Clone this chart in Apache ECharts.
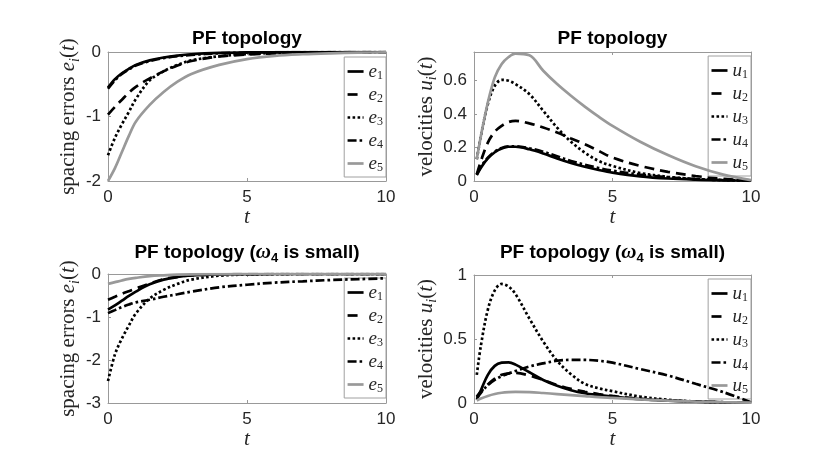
<!DOCTYPE html>
<html>
<head>
<meta charset="utf-8">
<script src="https://cdn.jsdelivr.net/npm/echarts@6/dist/echarts.min.js"></script>
<style>
  html, body { margin: 0; padding: 0; background: #fff; }
  #chart { width: 830px; height: 468px; }
</style>
</head>
<body>
<div id="chart"></div>
<script>
// time samples
const tErr = [0, 0.25, 0.5, 0.75, 1, 1.5, 2, 2.5, 3, 4, 5, 6, 7, 8, 9, 10];
const tVel = [0.1, 0.25, 0.5, 0.75, 1, 1.25, 1.5, 2, 2.5, 3, 3.5, 4, 4.5, 5, 6, 7, 8, 9, 10];

// top left: spacing errors, PF topology
const e1A = [-0.55, -0.42, -0.33, -0.26, -0.2, -0.13, -0.085, -0.055, -0.035, -0.015, -0.006, -0.003, -0.001, 0, 0, 0];
const e2A = [-0.97, -0.85, -0.74, -0.63, -0.54, -0.41, -0.3, -0.21, -0.14, -0.07, -0.04, -0.02, -0.01, -0.005, -0.002, -0.001];
const e3A = [-1.6, -1.33, -1.12, -0.93, -0.73, -0.44, -0.3, -0.2, -0.13, -0.065, -0.033, -0.015, -0.007, -0.003, -0.001, 0];
const e4A = [-0.57, -0.44, -0.34, -0.27, -0.21, -0.14, -0.095, -0.065, -0.045, -0.02, -0.01, -0.005, -0.002, -0.001, 0, 0];
const e5A = [-2, -1.8, -1.55, -1.3, -1.08, -0.82, -0.62, -0.46, -0.34, -0.2, -0.11, -0.06, -0.035, -0.02, -0.01, -0.005];

// top right: velocities, PF topology
const u1A = [0.035, 0.08, 0.135, 0.172, 0.195, 0.205, 0.205, 0.19, 0.165, 0.135, 0.108, 0.085, 0.066, 0.05, 0.028, 0.015, 0.008, 0.004, 0.002];
const u2A = [0.04, 0.12, 0.23, 0.295, 0.33, 0.353, 0.36, 0.345, 0.32, 0.29, 0.255, 0.22, 0.18, 0.14, 0.09, 0.055, 0.03, 0.013, 0.003];
const u3A = [0.13, 0.27, 0.46, 0.57, 0.605, 0.6, 0.58, 0.52, 0.42, 0.32, 0.235, 0.17, 0.12, 0.09, 0.048, 0.025, 0.012, 0.005, 0.001];
const u4A = [0.04, 0.085, 0.14, 0.176, 0.198, 0.207, 0.208, 0.196, 0.175, 0.148, 0.12, 0.097, 0.078, 0.062, 0.038, 0.022, 0.012, 0.006, 0.003];
const u5A = [0.13, 0.27, 0.47, 0.62, 0.7, 0.742, 0.762, 0.752, 0.66, 0.58, 0.51, 0.445, 0.385, 0.33, 0.235, 0.155, 0.088, 0.038, 0.005];

// bottom left: spacing errors, omega_4 small
const e1B = [-0.83, -0.73, -0.62, -0.51, -0.41, -0.24, -0.13, -0.07, -0.035, -0.01, -0.003, 0, 0, 0, 0, 0];
const e2B = [-0.6, -0.53, -0.46, -0.4, -0.34, -0.22, -0.12, -0.065, -0.033, -0.01, -0.003, 0, 0, 0, 0, 0];
const e3B = [-2.49, -1.87, -1.5, -1.2, -0.92, -0.57, -0.37, -0.23, -0.13, -0.04, -0.012, -0.004, 0, 0, 0, 0];
const e4B = [-0.91, -0.84, -0.77, -0.71, -0.66, -0.6, -0.53, -0.47, -0.41, -0.31, -0.25, -0.2, -0.17, -0.14, -0.12, -0.1];
const e5B = [-0.23, -0.19, -0.15, -0.115, -0.09, -0.05, -0.03, -0.015, -0.008, -0.003, 0, 0, 0, 0, 0, 0];

// bottom right: velocities, omega_4 small
const u1B = [0.026, 0.1, 0.22, 0.29, 0.315, 0.318, 0.3, 0.24, 0.18, 0.135, 0.1, 0.076, 0.062, 0.05, 0.03, 0.018, 0.01, 0.006, 0.003];
const u2B = [0.05, 0.09, 0.145, 0.19, 0.22, 0.232, 0.235, 0.215, 0.18, 0.14, 0.11, 0.088, 0.07, 0.055, 0.033, 0.02, 0.012, 0.007, 0.004];
const u3B = [0.22, 0.45, 0.73, 0.88, 0.93, 0.91, 0.85, 0.66, 0.48, 0.33, 0.225, 0.15, 0.115, 0.092, 0.05, 0.025, 0.012, 0.005, 0.002];
const u4B = [0.04, 0.08, 0.14, 0.18, 0.21, 0.23, 0.25, 0.285, 0.31, 0.33, 0.337, 0.337, 0.33, 0.315, 0.265, 0.215, 0.15, 0.085, 0.005];
const u5B = [0.02, 0.035, 0.055, 0.07, 0.08, 0.085, 0.087, 0.085, 0.078, 0.07, 0.062, 0.054, 0.046, 0.04, 0.028, 0.018, 0.011, 0.006, 0.003];

const xTicks = [0, 5, 10];
const titleTop = 'PF topology';
const titleBottom = '{b|PF topology (}{w|ω}{s|4}{b| is small)}';

var myChart = echarts.init(document.getElementById('chart'));

const sans = 'Liberation Sans, Arial, sans-serif';
const serif = 'Liberation Serif, Times New Roman, serif';
const boxColor = '#999999';
const textColor = '#262626';

// line looks: solid, dashed, dotted, dash-dot, grey solid
const looks = [
  { color: '#000000', type: 'solid' },
  { color: '#000000', type: [10, 6] },
  { color: '#000000', type: [2.6, 2.4] },
  { color: '#000000', type: [9, 3, 2.6, 3] },
  { color: '#999999', type: 'solid' }
];

const panels = [
  { grid: { left: 108, top: 52, width: 278, height: 129 }, ymin: -2, ymax: 0, step: 1,
    t: tErr, ys: [e1A, e2A, e3A, e4A, e5A], sym: 'e', tag: 'A', yname: 'spacing errors ', gap: 20,
    legend: { right: 444, top: 57 } },
  { grid: { left: 474, top: 52, width: 277, height: 129 }, ymin: 0, ymax: 0.772, step: 0.2,
    t: tVel, ys: [u1A, u2A, u3A, u4A, u5A], sym: 'u', tag: 'B', yname: 'velocities ', gap: 27,
    legend: { right: 79, top: 56 } },
  { grid: { left: 108, top: 274, width: 278, height: 129 }, ymin: -3, ymax: 0, step: 1,
    t: tErr, ys: [e1B, e2B, e3B, e4B, e5B], sym: 'e', tag: 'C', yname: 'spacing errors ', gap: 20,
    legend: { right: 444, top: 278 } },
  { grid: { left: 474, top: 275, width: 277, height: 128 }, ymin: 0, ymax: 1, step: 0.5,
    t: tVel, ys: [u1B, u2B, u3B, u4B, u5B], sym: 'u', tag: 'D', yname: 'velocities ', gap: 27,
    legend: { right: 79, top: 279 } }
];

const nameRich = {
  n: { fontFamily: serif, fontSize: 21, color: textColor },
  it: { fontFamily: serif, fontSize: 21, fontStyle: 'italic', color: textColor },
  sub: { fontFamily: serif, fontSize: 14, fontStyle: 'italic', color: textColor, padding: [12, 0, 0, 0] }
};

const legendRich = {
  it: { fontFamily: serif, fontSize: 19, fontStyle: 'italic', color: textColor, lineHeight: 16 },
  subn: { fontFamily: serif, fontSize: 12, color: textColor, lineHeight: 10, padding: [9, 0, 0, 0] }
};

const labels = {};
const grids = [], xAxes = [], yAxes = [], series = [], legends = [], titles = [];

panels.forEach(function (p, gi) {
  grids.push(p.grid);
  ['bottom', 'top'].forEach(function (pos) {
    xAxes.push({
      type: 'value', gridIndex: gi, position: pos, min: 0, max: 10, interval: 5,
      axisLine: { show: true, onZero: false, lineStyle: { color: boxColor, width: 1 } },
      axisTick: { show: true, inside: true, length: 3, lineStyle: { color: boxColor } },
      axisLabel: { show: pos === 'bottom', margin: 8, color: textColor, fontFamily: sans, fontSize: 17,
        formatter: function (v) { return xTicks.indexOf(v) >= 0 ? String(v) : ''; } },
      splitLine: { show: false },
      name: pos === 'bottom' ? '{it|t}' : '', nameLocation: 'middle', nameGap: 22,
      nameTextStyle: { rich: nameRich }
    });
  });
  ['left', 'right'].forEach(function (pos) {
    yAxes.push({
      type: 'value', gridIndex: gi, position: pos, min: p.ymin, max: p.ymax, interval: p.step,
      axisLine: { show: true, onZero: false, lineStyle: { color: boxColor, width: 1 } },
      axisTick: { show: true, inside: true, length: 3, lineStyle: { color: boxColor } },
      axisLabel: { show: pos === 'left', margin: 7, color: textColor, fontFamily: sans, fontSize: 17,
        showMaxLabel: p.ymax === 0.772 ? false : true },
      splitLine: { show: false },
      name: pos === 'left' ? '{n|' + p.yname + '}{it|' + p.sym + '}{sub|i}{n|(}{it|t}{n|)}' : '',
      nameLocation: 'middle', nameGap: p.gap, nameRotate: 90,
      nameTextStyle: { rich: nameRich }
    });
  });

  const names = [];
  p.ys.forEach(function (vals, k) {
    const name = p.tag + p.sym + (k + 1);
    names.push(name);
    labels[name] = '{it|' + p.sym + '}{subn|' + (k + 1) + '}';
    series.push({
      name: name, type: 'line', xAxisIndex: 2 * gi, yAxisIndex: 2 * gi,
      data: p.t.map(function (x, i) { return [x, vals[i]]; }),
      symbol: 'none', smooth: 0.35,
      lineStyle: { color: looks[k].color, type: looks[k].type, width: 2.7 },
      itemStyle: { color: looks[k].color },
      z: 2 + k
    });
  });

  legends.push({
    data: names, orient: 'vertical', right: p.legend.right, top: p.legend.top,
    itemWidth: 16, itemHeight: 12, itemGap: 2, selectedMode: false,
    backgroundColor: '#ffffff', borderColor: '#a0a0a0', borderWidth: 1, borderRadius: 0,
    padding: [4, 3, 3, 2],
    lineStyle: { width: 2.7 },
    itemStyle: { color: 'rgba(0,0,0,0)', borderWidth: 0, opacity: 0 },
    formatter: function (n) { return labels[n]; },
    textStyle: { rich: legendRich }
  });

  titles.push({
    text: gi < 2 ? titleTop : titleBottom,
    left: p.grid.left + p.grid.width / 2, top: gi < 2 ? 29 : 240,
    textAlign: 'center', padding: 0,
    textStyle: {
      fontFamily: sans, fontSize: 19, fontWeight: 'bold', color: '#000',
      rich: {
        b: { fontFamily: sans, fontSize: 19, fontWeight: 'bold', color: '#000' },
        w: { fontFamily: serif, fontSize: 21, fontStyle: 'italic', color: '#000' },
        s: { fontFamily: sans, fontSize: 13, fontWeight: 'bold', color: '#000', padding: [12, 0, 0, 0] }
      }
    }
  });
});

var option = {
  animation: false,
  backgroundColor: '#ffffff',
  title: titles,
  grid: grids,
  xAxis: xAxes,
  yAxis: yAxes,
  legend: legends,
  series: series
};

myChart.setOption(option);
</script>
</body>
</html>
